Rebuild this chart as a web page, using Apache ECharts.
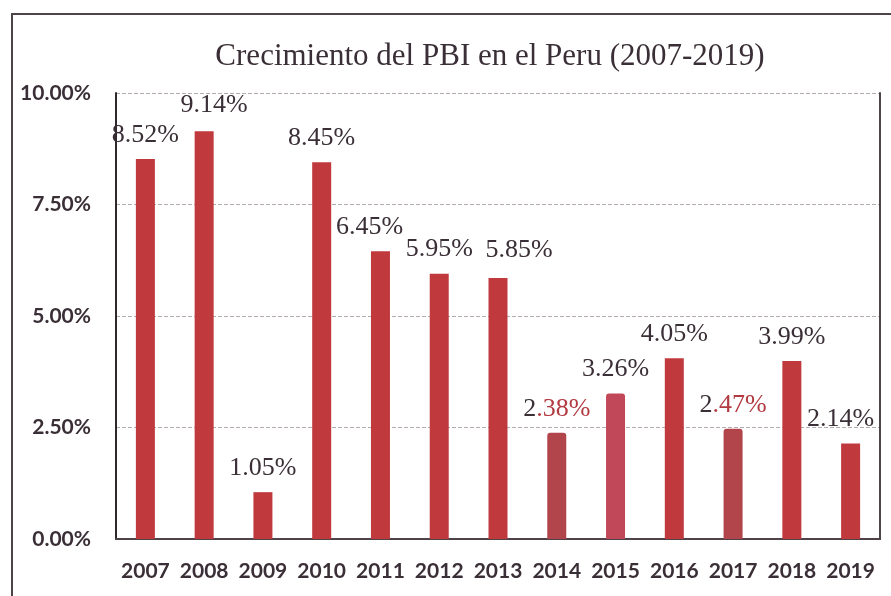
<!DOCTYPE html>
<html>
<head>
<meta charset="utf-8">
<script src="https://cdn.jsdelivr.net/npm/echarts@6/dist/echarts.min.js"></script>
<style>
  html, body { margin: 0; padding: 0; background: #fff; }
  #chart { width: 891px; height: 596px; }
</style>
</head>
<body>
<div id="chart"></div>
<script>
// data
const years = ['2007', '2008', '2009', '2010', '2011', '2012', '2013', '2014', '2015', '2016', '2017', '2018', '2019']
const growth = [8.52, 9.14, 1.05, 8.45, 6.45, 5.95, 5.85, 2.38, 3.26, 4.05, 2.47, 3.99, 2.14]
const yTicks = [0, 2.5, 5, 7.5, 10]
const redLabelYears = ['2014', '2017']

const titleText = 'Crecimiento del PBI en el Peru (2007-2019)'
const dark = '#3a2f36'
const barRed = '#c0393d'
const barColors = {'2014': '#b2454b', '2015': '#c14858', '2017': '#b2454b'}
// a few labels sit off-centre in the original
const labelShift = {'2008': [10, -2], '2011': [-11, 0], '2013': [21, -4], '2019': [-10, 0]}

const myChart = echarts.init(document.getElementById('chart'))

const barData = growth.map((v, i) => {
  const y = years[i]
  const item = {value: v}
  if (barColors[y]) {
    item.itemStyle = {color: barColors[y], borderRadius: [3, 3, 0, 0]}
  }
  if (labelShift[y]) {
    item.label = {offset: labelShift[y]}
  }
  return item
})

const option = {
  backgroundColor: '#fff',
  animation: false,
  title: {
    text: titleText,
    left: 485,
    textAlign: 'center',
    top: 36,
    textStyle: {
      fontFamily: 'Liberation Serif',
      fontWeight: 'normal',
      fontSize: 31,
      color: dark
    }
  },
  graphic: [{
    type: 'rect',
    shape: {x: 12, y: 14, width: 900, height: 600},
    style: {fill: 'none', stroke: '#4e4349', lineWidth: 2},
    silent: true
  }],
  grid: {left: 116, right: 11, top: 93, bottom: 57},
  xAxis: [{
    type: 'category',
    data: years,
    axisLine: {show: false},
    axisTick: {show: false},
    axisLabel: {
      interval: 0,
      margin: 22,
      fontFamily: 'Lato',
      fontWeight: 'bold',
      fontSize: 21,
      color: dark
    }
  }, {
    type: 'category',
    data: years,
    position: 'top',
    axisLine: {show: true, lineStyle: {color: '#4e4349', width: 2}},
    axisTick: {show: false},
    axisLabel: {show: false}
  }],
  yAxis: [{
    type: 'value',
    min: 0,
    max: 10,
    interval: 2.5,
    axisLine: {show: true, lineStyle: {color: '#2e282c', width: 2}},
    axisTick: {show: false},
    axisLabel: {
      margin: 25,
      formatter: v => yTicks.includes(v) ? v.toFixed(2) + '%' : '',
      fontFamily: 'Lato',
      fontWeight: 'bold',
      fontSize: 21,
      color: dark
    },
    splitLine: {
      show: true,
      lineStyle: {color: '#b3abb0', type: 'dashed', width: 1}
    }
  }, {
    type: 'value',
    min: 0,
    max: 10,
    interval: 2.5,
    position: 'right',
    axisLine: {show: true, lineStyle: {color: '#4e4349', width: 2}},
    axisTick: {show: false},
    axisLabel: {show: false},
    splitLine: {show: false}
  }],
  series: [{
    type: 'bar',
    data: barData,
    barWidth: 19,
    itemStyle: {color: barRed},
    label: {
      show: true,
      position: 'top',
      distance: 11,
      fontFamily: 'Liberation Serif',
      fontSize: 26,
      color: dark,
      formatter: p => {
        const txt = p.value.toFixed(2) + '%'
        if (redLabelYears.includes(p.name)) {
          return '{d|' + txt.slice(0, 1) + '}{r|' + txt.slice(1) + '}'
        }
        return txt
      },
      rich: {
        d: {fontFamily: 'Liberation Serif', fontSize: 26, color: dark},
        r: {fontFamily: 'Liberation Serif', fontSize: 26, color: '#b23a41'}
      }
    }
  }]
}

myChart.setOption(option)
</script>
</body>
</html>
